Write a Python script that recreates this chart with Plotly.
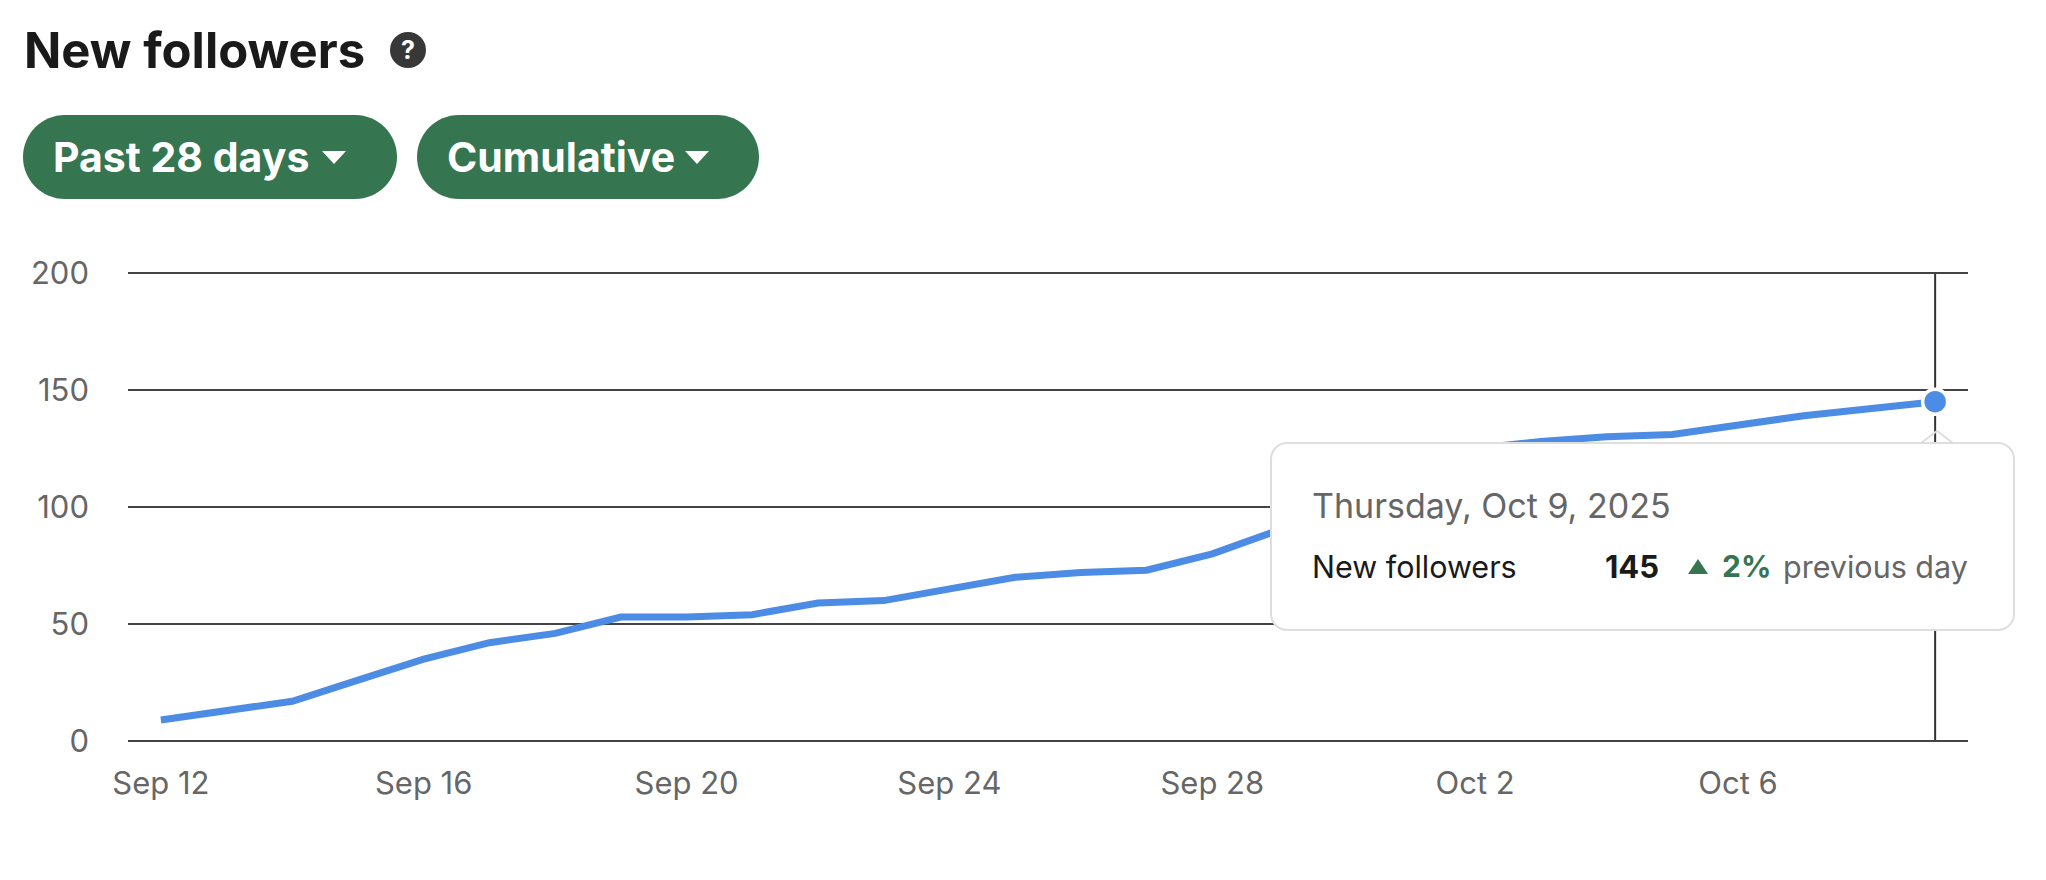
import plotly.graph_objects as go

# daily cumulative new followers
dates = [
    "2025-09-12", "2025-09-13", "2025-09-14", "2025-09-15", "2025-09-16",
    "2025-09-17", "2025-09-18", "2025-09-19", "2025-09-20", "2025-09-21",
    "2025-09-22", "2025-09-23", "2025-09-24", "2025-09-25", "2025-09-26",
    "2025-09-27", "2025-09-28", "2025-09-29", "2025-09-30", "2025-10-01",
    "2025-10-02", "2025-10-03", "2025-10-04", "2025-10-05", "2025-10-06",
    "2025-10-07", "2025-10-08", "2025-10-09",
]
followers = [9, 13, 17, 26, 35, 42, 46, 53, 53, 54,
             59, 60, 65, 70, 72, 73, 80, 90, 101, 113,
             125, 128, 130, 131, 135, 139, 142, 145]

tick_dates = ["2025-09-12", "2025-09-16", "2025-09-20", "2025-09-24",
              "2025-09-28", "2025-10-02", "2025-10-06"]
tick_labels = ["Sep 12", "Sep 16", "Sep 20", "Sep 24", "Sep 28", "Oct 2", "Oct 6"]
y_ticks = [0, 50, 100, 150, 200]

title = "New followers"
period_label = "Past 28 days"
mode_label = "Cumulative"
tip_date = "Thursday, Oct 9, 2025"
tip_series = "New followers"
tip_change = "2%"
tip_suffix = "previous day"

W, H = 2046, 880
L, R, T, B = 128, 1968, 272, 742
FONT = "Inter, Roboto, sans-serif"
GREEN = "#35754f"
BLUE = "#4d8ce4"
GREY = "#666666"


def px(x):
    return (x - L) / (R - L)


def py(y):
    return (B - y) / (B - T)


def pt(x, y):
    return f"{px(x):.5f},{py(y):.5f}"


def round_box(x0, y0, x1, y1, r):
    k = 0.5523 * r
    return (f"M {pt(x0 + r, y0)} L {pt(x1 - r, y0)} "
            f"C {pt(x1 - r + k, y0)} {pt(x1, y0 + r - k)} {pt(x1, y0 + r)} "
            f"L {pt(x1, y1 - r)} "
            f"C {pt(x1, y1 - r + k)} {pt(x1 - r + k, y1)} {pt(x1 - r, y1)} "
            f"L {pt(x0 + r, y1)} "
            f"C {pt(x0 + r - k, y1)} {pt(x0, y1 - r + k)} {pt(x0, y1 - r)} "
            f"L {pt(x0, y0 + r)} "
            f"C {pt(x0, y0 + r - k)} {pt(x0 + r - k, y0)} {pt(x0 + r, y0)} Z")


def tri(points):
    return "M " + " L ".join(pt(x, y) for x, y in points) + " Z"


def label(fig, text, x, y, size, color, bold=False):
    fig.add_annotation(
        text=f"<b>{text}</b>" if bold else text,
        xref="paper", yref="paper", x=px(x), y=py(y),
        xanchor="left", yanchor="middle", showarrow=False,
        font=dict(family=FONT, size=size, color=color))


fig = go.Figure()
fig.add_trace(go.Scatter(x=dates, y=followers, mode="lines",
                         line=dict(color=BLUE, width=7), hoverinfo="skip"))
fig.add_trace(go.Scatter(x=[dates[-1]], y=[followers[-1]], mode="markers",
                         marker=dict(size=25, color=BLUE,
                                     line=dict(color="white", width=3.5)),
                         hoverinfo="skip"))

# crosshair on the hovered day
fig.add_shape(type="line", xref="x", yref="paper", x0=dates[-1], x1=dates[-1],
              y0=0, y1=1, line=dict(color="#333333", width=2), layer="between")

# header: title, help icon, dropdown pills
label(fig, title, 22, 50, 49, "#1a1a1a", bold=True)
fig.add_shape(type="circle", xref="paper", yref="paper",
              x0=px(390), x1=px(426), y0=py(68), y1=py(32),
              fillcolor="#383838", line=dict(width=0))
fig.add_annotation(text="<b>?</b>", xref="paper", yref="paper",
                   x=px(408), y=py(50), xanchor="center", yanchor="middle",
                   showarrow=False, font=dict(family=FONT, size=25, color="white"))

for (x0, x1, tx, ax, txt) in [(23, 397, 51, 322, period_label),
                              (417, 759, 445, 685, mode_label)]:
    fig.add_shape(type="path", xref="paper", yref="paper",
                  path=round_box(x0, 115, x1, 199, 42),
                  fillcolor=GREEN, line=dict(width=0))
    label(fig, txt, tx, 157, 41, "white", bold=True)
    fig.add_shape(type="path", xref="paper", yref="paper",
                  path=tri([(ax, 151), (ax + 24, 151), (ax + 12, 164)]),
                  fillcolor="white", line=dict(width=0))

# tooltip
fig.add_shape(type="path", xref="paper", yref="paper",
              path=round_box(1271, 443, 2014, 630, 16),
              fillcolor="white", line=dict(color="#dedede", width=2), layer="above")
fig.add_shape(type="path", xref="paper", yref="paper",
              path=f"M {pt(1921, 443)} L {pt(1937, 431)} L {pt(1953, 443)}",
              line=dict(color="#dedede", width=2), layer="above")
label(fig, tip_date, 1310, 505, 34, GREY)
label(fig, tip_series, 1310, 566, 30.5, "#1a1a1a")
label(fig, str(followers[-1]), 1603, 566, 31, "#1a1a1a", bold=True)
fig.add_shape(type="path", xref="paper", yref="paper",
              path=tri([(1688, 574), (1708, 574), (1698, 559)]),
              fillcolor=GREEN, line=dict(width=0), layer="above")
label(fig, tip_change, 1720, 566, 30, GREEN, bold=True)
label(fig, tip_suffix, 1781, 566, 30.5, GREY)

fig.update_layout(
    width=W, height=H,
    margin=dict(l=L, r=W - R, t=T, b=H - B),
    plot_bgcolor="white", paper_bgcolor="white",
    showlegend=False,
    xaxis=dict(type="date", range=["2025-09-11 12:00", "2025-10-09 12:00"],
               tickvals=tick_dates, ticktext=tick_labels,
               showgrid=False, zeroline=False, showline=False, ticks="",
               ticklabelstandoff=20,
               tickfont=dict(family=FONT, size=31, color=GREY)),
    yaxis=dict(range=[-0.43, 200.43], tickvals=y_ticks,
               showgrid=True, gridcolor="#444444", gridwidth=2,
               zeroline=False, showline=False, ticks="",
               ticklabelstandoff=38,
               tickfont=dict(family=FONT, size=31, color=GREY)),
)

fig.write_html("out.html", config={"displayModeBar": False},
               post_script="document.body.style.margin = '0';")
